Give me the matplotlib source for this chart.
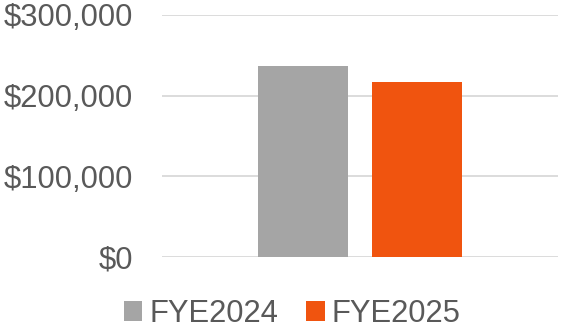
import matplotlib
matplotlib.use("Agg")
import matplotlib.pyplot as plt
from matplotlib.ticker import FuncFormatter
from matplotlib.patches import Patch

plt.rcParams['font.family'] = ['Liberation Sans', 'DejaVu Sans']

series = ["FYE2024", "FYE2025"]
values = [237000, 217000]
colors = ["#A5A5A5", "#F0540F"]
yticks = [0, 100000, 200000, 300000]

text_color = "#595959"
fs = 22.3

fig = plt.figure(figsize=(5.61, 3.32), dpi=100)
ax = fig.add_axes([162 / 561, 75 / 332, 396 / 561, 242 / 332])

offsets = [-0.288, 0.288]
for off, v, c in zip(offsets, values, colors):
    ax.bar(off, v, width=0.455, color=c, zorder=3)

ax.set_xlim(-1, 1)
ax.set_ylim(0, 300000)
ax.set_yticks(yticks)
ax.yaxis.set_major_formatter(FuncFormatter(lambda v, p: "${:,.0f}".format(v)))
ax.set_xticks([])
ax.grid(axis="y", color="#D9D9D9", linewidth=1.3, zorder=0)
ax.tick_params(axis="y", length=0, pad=21, labelsize=fs, labelcolor=text_color)
for lbl in ax.get_yticklabels():
    lbl.set_va("center_baseline")
for s in ax.spines.values():
    s.set_visible(False)

handles = [Patch(facecolor=c, edgecolor="none") for c in colors]
fig.legend(handles, series, loc="center", bbox_to_anchor=(292 / 561, 1 - 314 / 332),
           ncol=2, frameon=False, fontsize=fs, labelcolor=text_color,
           handlelength=0.6, handleheight=0.6, handletextpad=0.22,
           columnspacing=0.9, borderpad=0)

fig.savefig("out.png", dpi=100)
